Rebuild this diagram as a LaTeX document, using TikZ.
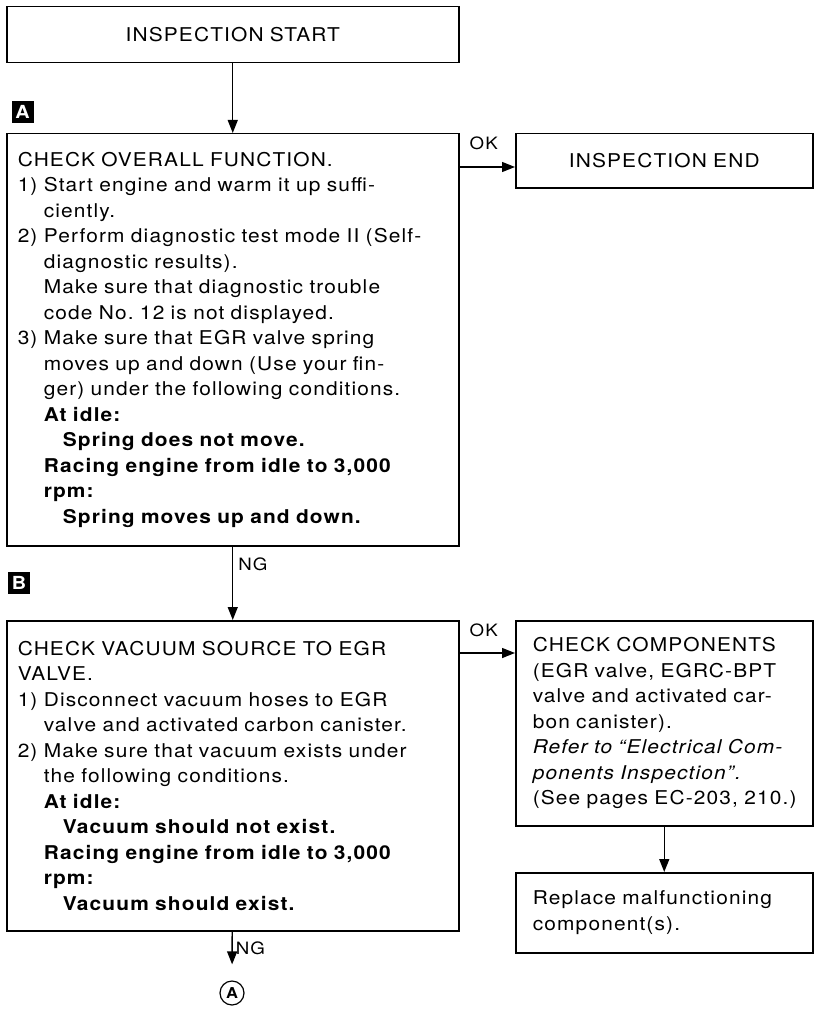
\documentclass[tikz,border=0pt]{standalone}
\usepackage{fontspec}
\setmainfont{TeX Gyre Heros}[FakeStretch=1.1,LetterSpace=6]
\usetikzlibrary{
  arrows.meta,
  positioning,
  calc
}

% indents for the numbered steps
\newcommand{\hgap}{\hphantom{1)\ }}
\newcommand{\hhgap}{\hgap\hspace*{19pt}}

\begin{document}
\begin{tikzpicture}[
    x=1pt, y=-1pt,
    stepbox/.style={
      draw, line width=1.5pt, anchor=north west,
      inner xsep=11pt, inner ysep=0pt, align=left,
      font=\fontsize{19}{25.5}\selectfont
    },
    flowlbl/.style={
      font=\fontsize{17}{17}\selectfont, inner sep=1pt
    },
    tag/.style={
      fill=black, text=white, minimum size=22pt, inner sep=0pt,
      font=\bfseries\fontsize{18}{18}\selectfont
    },
    flow/.style={line width=1.4pt, -{Triangle[length=13pt,width=10pt]}}
  ]

  \useasboundingbox (0,0) rectangle (817,1035);

  %% Left column
  \node[stepbox, align=center, text width=430pt, minimum height=56pt]
    (start) at (6,6) {INSPECTION START};

  \node[tag] (tagA) at (22.5,112) {A};
  \node[stepbox, text width=430pt, minimum height=412pt] (chkA) at (6,133)
    {CHECK OVERALL FUNCTION.\\
     1) Start engine and warm it up suffi-\\
     \hgap ciently.\\
     2) Perform diagnostic test mode II (Self-\\
     \hgap diagnostic results).\\
     \hgap Make sure that diagnostic trouble\\
     \hgap code No.\ 12 is not displayed.\\
     3) Make sure that EGR valve spring\\
     \hgap moves up and down (Use your fin-\\
     \hgap ger) under the following conditions.\\
     \hgap\textbf{At idle:}\\
     \hhgap\textbf{Spring does not move.}\\
     \hgap\textbf{Racing engine from idle to 3,000}\\
     \hgap\textbf{rpm:}\\
     \hhgap\textbf{Spring moves up and down.}};

  \node[tag] (tagB) at (19,583) {B};
  \node[stepbox, text width=430pt, minimum height=310pt] (chkB) at (6,620)
    {CHECK VACUUM SOURCE TO EGR\\
     VALVE.\\
     1) Disconnect vacuum hoses to EGR\\
     \hgap valve and activated carbon canister.\\
     2) Make sure that vacuum exists under\\
     \hgap the following conditions.\\
     \hgap\textbf{At idle:}\\
     \hhgap\textbf{Vacuum should not exist.}\\
     \hgap\textbf{Racing engine from idle to 3,000}\\
     \hgap\textbf{rpm:}\\
     \hhgap\textbf{Vacuum should exist.}};

  \node[circle, draw, line width=1.2pt, inner sep=1pt, minimum size=24pt,
        font=\bfseries\fontsize{15}{15}\selectfont] (conA) at (232,993) {A};

  %% Right column
  \node[stepbox, align=center, text width=275pt, minimum height=54pt]
    (finish) at (515,133) {INSPECTION END};

  \node[stepbox, inner xsep=17pt, text width=263pt, minimum height=205pt]
    (comp) at (515,620)
    {CHECK COMPONENTS\\
     (EGR valve, EGRC-BPT\\
     valve and activated car-\\
     bon canister).\\
     \textit{Refer to “Electrical Com-}\\
     \textit{ponents Inspection”.}\\
     (See pages EC-203, 210.)};

  \node[stepbox, inner xsep=17pt, text width=263pt, minimum height=80pt]
    (repl) at (515,872)
    {Replace malfunctioning\\
     component(s).};

  %% Connectors
  \draw[flow] (start) -- (chkA);

  \coordinate (okA) at ([yshift=-34pt]chkA.north east);
  \draw[flow] (okA) -- (okA -| finish.west);
  \node[flowlbl, anchor=base west] at ([xshift=9pt,yshift=17pt]okA) {OK};

  \draw[flow] (chkA) -- node[flowlbl, anchor=west, xshift=4pt, pos=0.24] {NG} (chkB);

  \coordinate (okB) at ([yshift=-33pt]chkB.north east);
  \draw[flow] (okB) -- (okB -| comp.west);
  \node[flowlbl, anchor=base west] at ([xshift=9pt,yshift=17pt]okB) {OK};

  \draw[flow] (comp) -- (repl);

  \draw[flow, shorten >=16pt] (chkB) --
    node[flowlbl, anchor=west, xshift=2pt, pos=0.35] {NG} (conA);

\end{tikzpicture}
\end{document}
